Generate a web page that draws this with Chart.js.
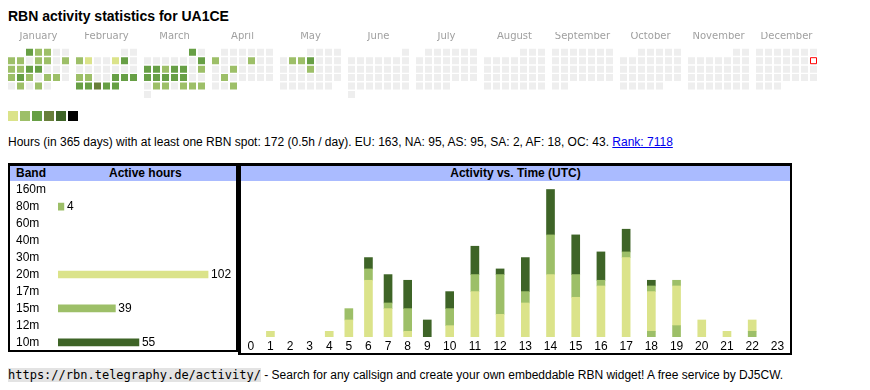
<!DOCTYPE html>
<html>
<head>
<meta charset="utf-8">
<title>RBN activity statistics for UA1CE</title>
<script src="https://cdn.jsdelivr.net/npm/chart.js@4/dist/chart.umd.min.js"></script>
<style>
  body { margin: 0; width: 870px; height: 390px; position: relative; overflow: hidden; background: #fff;
         font-family: Arial, "Liberation Sans", sans-serif; font-size: 12px; color: #000; }
  .abs { position: absolute; }
  #title { left: 8px; top: 8px; font-weight: bold; font-size: 14px; line-height: 16px; white-space: nowrap; }
  #legend { left: 8px; top: 111px; height: 10px; }
  #legend span { float: left; width: 10px; height: 10px; margin-right: 2px; }
  #info { left: 8px; top: 135px; line-height: 14px; white-space: nowrap; }
  #info a { color: #0000ee; }
  .box { border: 2px solid #000; border-top-width: 3px; box-sizing: border-box; }
  #bandBox { left: 8px; top: 163px; width: 230px; height: 189px; }
  #timeBox { left: 238px; top: 163px; width: 554px; height: 192px; border-left-width: 3px; }
  .hdr { position: relative; height: 15px; line-height: 15px; background: #aabbff; font-weight: bold; }
  #footer { left: 8px; top: 368px; line-height: 14px; white-space: nowrap; }
  code { font-family: "DejaVu Sans Mono", monospace; font-size: 12px; background: #e3e3e3; }
</style>
</head>
<body>
<div id="title" class="abs">RBN activity statistics for UA1CE</div>
<canvas id="calendar" class="abs" width="870" height="84" style="left:0;top:20px"></canvas>
<div id="legend" class="abs"></div>
<div id="info" class="abs">Hours (in 365 days) with at least one RBN spot: 172 (0.5h / day). EU: 163, NA: 95, AS: 95, SA: 2, AF: 18, OC: 43. <a href="#">Rank: 7118</a></div>

<div id="bandBox" class="abs box">
  <div class="hdr"><span style="position:absolute;left:6px">Band</span><span style="position:absolute;left:99px">Active hours</span></div>
</div>
<div id="timeBox" class="abs box">
  <div class="hdr" style="text-align:center">Activity vs. Time (UTC)</div>
</div>
<canvas id="bands" class="abs" width="226" height="184" style="left:10px;top:174px"></canvas>
<canvas id="hours" class="abs" width="549" height="172" style="left:241px;top:181px"></canvas>

<div id="footer" class="abs"><code>https://rbn.telegraphy.de/activity/</code> - Search for any callsign and create your own embeddable RBN widget! A free service by DJ5CW.</div>

<script>
const months = ['January', 'February', 'March', 'April', 'May', 'June', 'July',
  'August', 'September', 'October', 'November', 'December'];
const year = 2025;
const today = [11, 14]; // month index, day

// activity level per day (0 = no spot); June..December had no spots at all
const levelsJan = [3,2,2,0,0, 2,2,0,2,2,0,2, 2,2,3,3,0,0,0, 2,3,2,0,2,2,0, 0,2,0,2,0];
const levelsFeb = [0,0, 2,1,0,0,1,3,0, 0,0,0,0,0,0,0, 2,2,0,0,3,3,3, 3,3,4,3,3];
const levelsMar = [3,0, 0,0,0,0,0,0,3, 3,3,2,3,3,0,2, 3,3,3,3,3,0,0, 0,2,2,0,2,2,2, 0];
const levelsApr = [0,0,0,0,0,0, 2,0,0,0,2,0,0, 0,0,2,0,0,0,0, 0,2,0,0,0,0,0, 0,0,2];
const levelsMay = [0,0,0,0, 0,2,2,3,0,0,0, 0,0,0,2,0,0,0, 0,0,0,0,0,0,0, 0,0,0,0,0,0];
const monthLevels = [levelsJan, levelsFeb, levelsMar, levelsApr, levelsMay];
const levelColors = ['#eeeeee', '#dbe38a', '#9dbf68', '#679f45', '#687f3a', '#3e6427', '#000000'];

const bands = ['160m', '80m', '60m', '40m', '30m', '20m', '17m', '15m', '12m', '10m'];
const bandHours = [0, 4, 0, 0, 0, 102, 0, 39, 0, 55];
const bandColors = ['#dbe38a', '#9dbf68', '#9dbf68', '#9dbf68', '#9dbf68', '#dbe38a', '#9dbf68', '#9dbf68', '#3e6427', '#3e6427'];

const hours = ['0','1','2','3','4','5','6','7','8','9','10','11',
  '12','13','14','15','16','17','18','19','20','21','22','23'];
const hours80m = [0,0,0,0,0,0,0,0,0,0,0,0,0,0,0,0,0,0,1,2,0,0,1,0];
const hours20m = [0,1,0,0,1,3,10,5,1,0,2,8,4,6,11,7,9,14,7,7,3,1,2,0];
const hours15m = [0,0,0,0,0,2,2,1,4,0,3,3,7,2,7,4,1,1,1,1,0,0,0,0];
const hours10m = [0,0,0,0,0,0,2,5,5,3,3,5,1,6,8,7,5,4,1,0,0,0,0,0];

Chart.defaults.font.family = 'Arial, "Liberation Sans", sans-serif';
Chart.defaults.font.size = 12;
Chart.defaults.color = '#000';
Chart.defaults.animation = false;
Chart.defaults.plugins.legend.display = false;
Chart.defaults.plugins.tooltip.enabled = false;

// legend squares
const legendEl = document.getElementById('legend');
levelColors.slice(1).forEach(c => {
  const s = document.createElement('span');
  s.style.background = c;
  legendEl.appendChild(s);
});

// ---- calendar: one square per day, months side by side, weeks as rows
const monthPitch = 7 + 5 / 9; // 7 weekday columns plus a small gap
const calPoints = [], calColors = [];
for (let m = 0; m < 12; m++) {
  const firstCol = (new Date(year, m, 1).getDay() + 6) % 7;
  const days = new Date(year, m + 1, 0).getDate();
  const lv = monthLevels[m] || [];
  for (let d = 1; d <= days; d++) {
    const pos = firstCol + d - 1;
    calPoints.push({ x: m * monthPitch + pos % 7, y: Math.floor(pos / 7) });
    calColors.push(levelColors[lv[d - 1] || 0]);
  }
}
const tPos = (new Date(year, today[0], 1).getDay() + 6) % 7 + today[1] - 1;
const todayPoint = [{ x: today[0] * monthPitch + tPos % 7, y: Math.floor(tPos / 7) }];

new Chart(document.getElementById('calendar'), {
  type: 'scatter',
  data: {
    datasets: [
      { data: todayPoint, pointStyle: 'rect', pointRadius: 4.243, pointBackgroundColor: '#fff',
        pointBorderColor: '#ff0000', pointBorderWidth: 1, order: 0 },
      { data: calPoints, pointStyle: 'rect', pointRadius: 4.95, pointBackgroundColor: calColors,
        pointBorderWidth: 0, order: 1 }
    ]
  },
  options: {
    responsive: false,
    events: [],
    layout: { padding: { left: 7, right: 52, top: 12, bottom: 2 } },
    scales: {
      x: {
        position: 'top', min: -0.5, max: 11 * monthPitch + 6.5,
        grid: { display: false, drawTicks: false }, border: { display: false },
        afterBuildTicks: s => { s.ticks = months.map((_, i) => ({ value: i * monthPitch + 3 })); },
        afterFit: s => { s.height = 16; },
        ticks: { autoSkip: false, maxRotation: 0, padding: 6, color: '#a0a0a0',
                 font: { family: '"DejaVu Sans", sans-serif', size: 10 },
                 callback: (v, i) => months[i] }
      },
      y: { display: false, reverse: true, min: -0.5, max: 5.5 }
    }
  }
});

// ---- active hours per band
const valueLabels = {
  id: 'valueLabels',
  afterDatasetsDraw(chart) {
    const ctx = chart.ctx;
    ctx.save();
    ctx.font = '12px Arial, "Liberation Sans", sans-serif';
    ctx.fillStyle = '#000';
    ctx.textBaseline = 'middle';
    chart.getDatasetMeta(0).data.forEach((bar, i) => {
      const v = chart.data.datasets[0].data[i];
      if (v > 0) ctx.fillText(v, bar.x + 3, bar.y + 0.5);
    });
    ctx.restore();
  }
};

const noZero = v => (v > 0 ? v : null);

new Chart(document.getElementById('bands'), {
  type: 'bar',
  data: { labels: bands, datasets: [{ data: bandHours.map(noZero), backgroundColor: bandColors, barThickness: 7 }] },
  options: {
    indexAxis: 'y',
    responsive: false,
    events: [],
    layout: { padding: { left: 6 } },
    scales: {
      x: { display: false, min: 0, max: 121 },
      y: {
        grid: { display: false, drawTicks: false }, border: { display: false },
        afterFit: s => { s.width = 42; },
        ticks: { autoSkip: false, crossAlign: 'far', padding: 0 }
      }
    }
  },
  plugins: [valueLabels]
});

// ---- activity vs. time: table-like columns, as wide as their labels
const colUnits = hours.map(h => h.length + 2.5);
const hourX = [];
let rowSpan = 0;
colUnits.forEach(w => { hourX.push(rowSpan + w / 2); rowSpan += w; });
const atHours = vals => vals.map((v, i) => ({ x: hourX[i], y: noZero(v) }));

new Chart(document.getElementById('hours'), {
  type: 'bar',
  data: {
    datasets: [
      { data: atHours(hours80m), backgroundColor: '#9dbf68' },
      { data: atHours(hours20m), backgroundColor: '#dbe38a' },
      { data: atHours(hours15m), backgroundColor: '#9dbf68' },
      { data: atHours(hours10m), backgroundColor: '#3e6427' }
    ]
  },
  options: {
    responsive: false,
    events: [],
    datasets: { bar: { barThickness: 8 } },
    scales: {
      x: {
        type: 'linear', stacked: true, offset: false, min: 0, max: rowSpan,
        grid: { display: false, drawTicks: false }, border: { display: false },
        afterBuildTicks: s => { s.ticks = hourX.map(v => ({ value: v })); },
        afterFit: s => { s.height = 16; },
        ticks: { autoSkip: false, maxRotation: 0, padding: 2, callback: (v, i) => hours[i] }
      },
      y: { display: false, stacked: true, min: 0, max: 27.5 }
    }
  }
});
</script>
</body>
</html>
